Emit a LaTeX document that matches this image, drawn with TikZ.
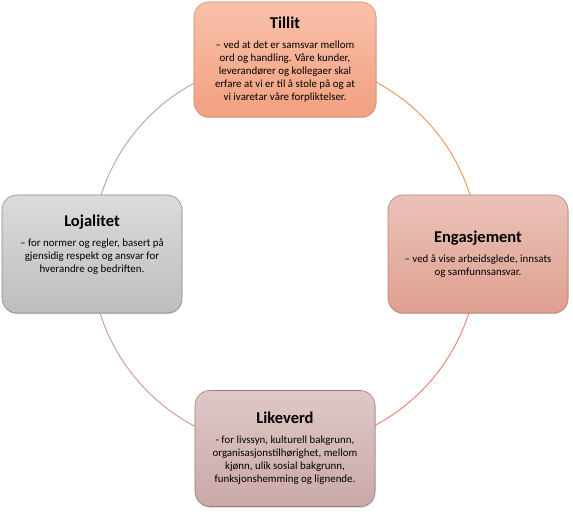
\documentclass[tikz,border=0pt]{standalone}
\usepackage{fontspec}
\setmainfont{Carlito}
\usepackage{xcolor}
\usepackage{tikz}
\usetikzlibrary{positioning, backgrounds, shadows}
\definecolor{tillittop}{RGB}{249,193,170}
\definecolor{tillitbot}{RGB}{242,160,128}
\definecolor{tillitline}{RGB}{214,138,108}
\definecolor{engtop}{RGB}{235,194,184}
\definecolor{engbot}{RGB}{222,160,144}
\definecolor{engline}{RGB}{190,128,112}
\definecolor{lojtop}{RGB}{219,219,219}
\definecolor{lojbot}{RGB}{190,190,190}
\definecolor{lojline}{RGB}{140,140,140}
\definecolor{liktop}{RGB}{224,200,200}
\definecolor{likbot}{RGB}{202,168,168}
\definecolor{likline}{RGB}{160,125,125}
\definecolor{ringtr}{RGB}{244,155,92}
\definecolor{ringrb}{RGB}{226,140,118}
\definecolor{ringbl}{RGB}{206,160,154}
\definecolor{ringlt}{RGB}{176,176,176}
\definecolor{textcolor}{RGB}{0,0,0}
\newcommand{\valuehead}[1]{{\fontsize{16.5}{19}\selectfont\bfseries #1}}

\begin{document}
\begin{tikzpicture}[
    x=1pt, y=1pt,
    valuebox/.style={draw, line width=0.6pt, rounded corners=15pt, minimum width=180pt, minimum height=117pt,
        drop shadow={shadow xshift=0.5pt, shadow yshift=-1.2pt, opacity=0.35, fill=black!60}},
    valuetext/.style={align=center, font=\fontsize{10.9}{13}\selectfont, text=textcolor},
    ring/.style={line width=1pt}
]
    \useasboundingbox (-285,-262) rectangle (288,254);

    % Values
    \node[valuebox, minimum width=182pt, minimum height=115pt, top color=tillittop, bottom color=tillitbot, draw=tillitline] (tillit) at (0,194.5) {};
    \node[valuebox, minimum height=118pt, top color=engtop, bottom color=engbot, draw=engline] (engasjement) at (193,0) {};
    \node[valuebox, minimum height=118pt, top color=lojtop, bottom color=lojbot, draw=lojline] (lojalitet) at (-193,0) {};
    \node[valuebox, minimum height=116pt, top color=liktop, bottom color=likbot, draw=likline] (likeverd) at (0,-194.5) {};

    % Texts
    \node[valuetext] (tillit-text) at (tillit) {\valuehead{Tillit}\\[7pt]
        – ved at det er samsvar mellom\\ ord og handling. Våre kunder,\\ leverandører og kollegaer skal\\
        erfare at vi er til å stole på og at\\ vi ivaretar våre forpliktelser.};
    \node[valuetext] (engasjement-text) at (engasjement) {\valuehead{Engasjement}\\[7pt]
        – ved å vise arbeidsglede, innsats\\ og samfunnsansvar.};
    \node[valuetext] (lojalitet-text) at ([yshift=9pt]lojalitet.center) {\valuehead{Lojalitet}\\[7pt]
        – for normer og regler, basert på\\ gjensidig respekt og ansvar for\\ hverandre og bedriften.};
    \node[valuetext] (likeverd-text) at (likeverd) {\valuehead{Likeverd}\\[7pt]
        - for livssyn, kulturell bakgrunn,\\ organisasjonstilhørighet, mellom\\ kjønn, ulik sosial bakgrunn,\\
        funksjonshemming og lignende.};

    % Ring
    \begin{scope}[on background layer]
        \draw[ring, ringtr] (tillit.center) arc[start angle=90, end angle=0, radius=194];
        \draw[ring, ringrb] (engasjement.center) arc[start angle=0, end angle=-90, radius=194];
        \draw[ring, ringbl] (likeverd.center) arc[start angle=270, end angle=180, radius=194];
        \draw[ring, ringlt] (lojalitet.center) arc[start angle=180, end angle=90, radius=194];
    \end{scope}
\end{tikzpicture}
\end{document}
